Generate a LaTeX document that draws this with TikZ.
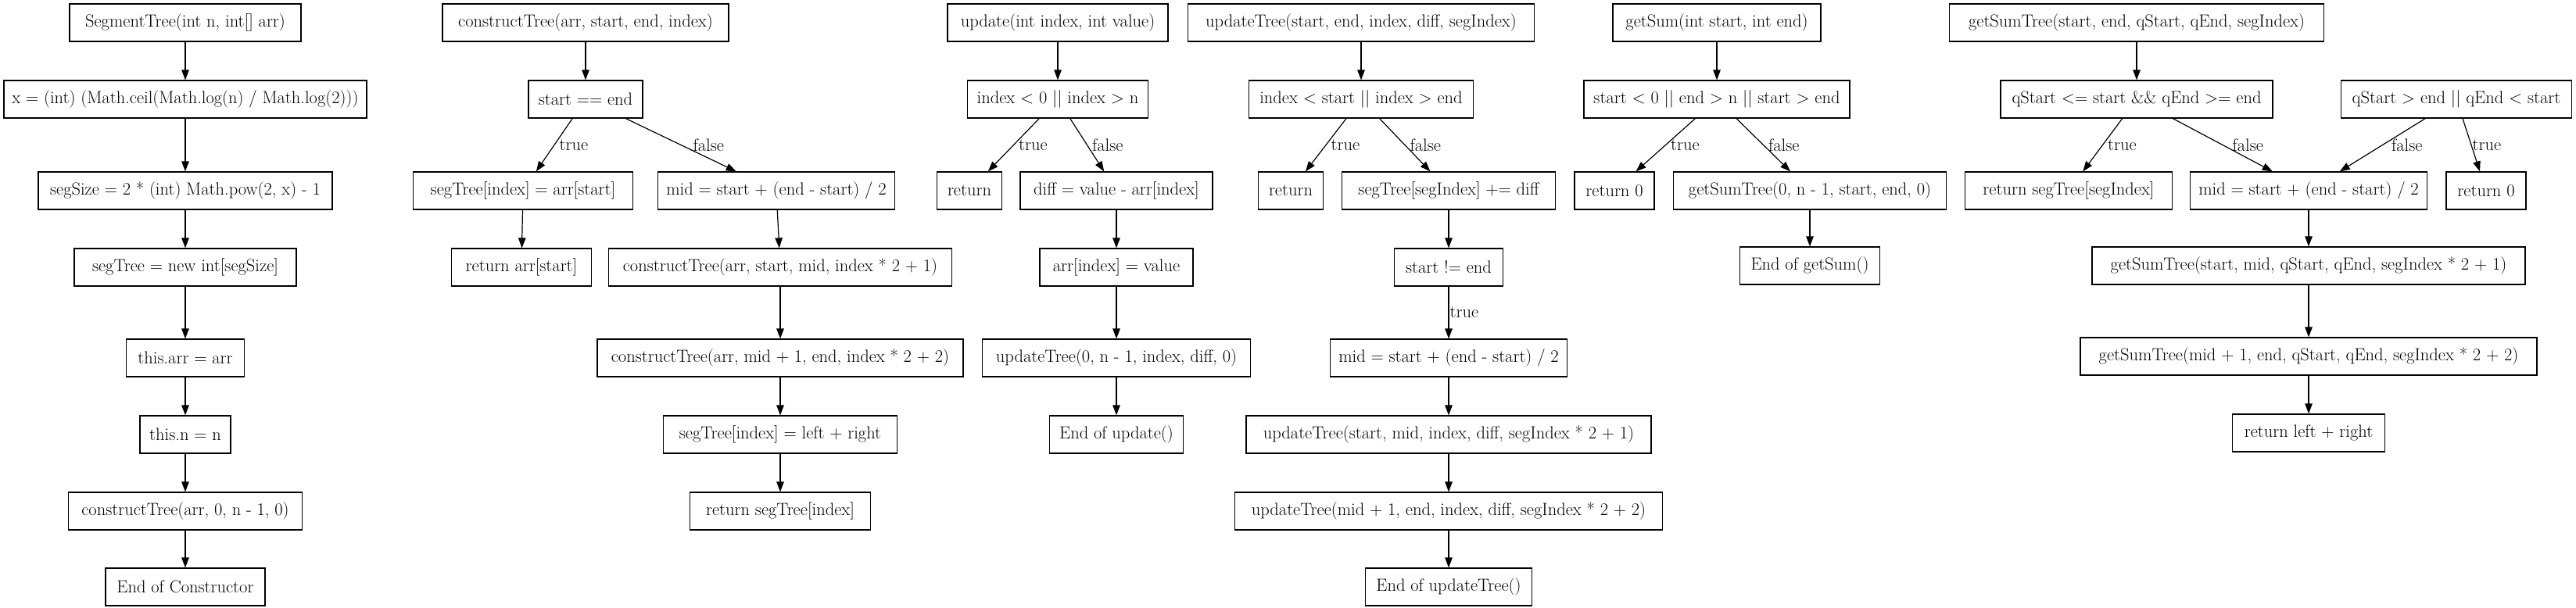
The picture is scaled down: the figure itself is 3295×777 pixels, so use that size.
\documentclass[tikz,border=0pt]{standalone}
\usetikzlibrary{arrows.meta}

\begin{document}
\begin{tikzpicture}[
      x=1pt, y=-1pt,
      bloco/.style={draw, line width=1.2pt, minimum height=48pt, inner sep=0pt,
                    font=\fontsize{22.5}{26}\selectfont},
      seta/.style={-{Triangle[length=13pt, width=9.5pt]}, line width=1.2pt},
      rotulo/.style={font=\fontsize{22.5}{26}\selectfont, anchor=west, inner xsep=6pt, inner ysep=0pt}
  ]
      \useasboundingbox[fill=white] (0,0) rectangle (3295,777);

      % Construtor
      \node[bloco, minimum width=296pt] (ctor)   at (237,29)  {SegmentTree(int n, int[] arr)};
      \node[bloco, minimum width=464pt] (xlog)   at (237,127) {x = (int) (Math.ceil(Math.log(n) / Math.log(2)))};
      \node[bloco, minimum width=376pt] (size)   at (237,244) {segSize = 2 * (int) Math.pow(2, x) - 1};
      \node[bloco, minimum width=284pt] (alloc)  at (237,342) {segTree = new int[segSize]};
      \node[bloco, minimum width=151pt] (tarr)   at (237,458) {this.arr = arr};
      \node[bloco, minimum width=116pt] (tn)     at (237,556) {this.n = n};
      \node[bloco, minimum width=299pt] (call)   at (237,654) {constructTree(arr, 0, n - 1, 0)};
      \node[bloco, minimum width=204pt] (endc)   at (237,751) {End of Constructor};

      \draw[seta] (ctor)--(xlog);
      \draw[seta] (xlog)--(size);
      \draw[seta] (size)--(alloc);
      \draw[seta] (alloc)--(tarr);
      \draw[seta] (tarr)--(tn);
      \draw[seta] (tn)--(call);
      \draw[seta] (call)--(endc);

      % constructTree
      \node[bloco, minimum width=366pt] (ct)     at (749,29)   {constructTree(arr, start, end, index)};
      \node[bloco, minimum width=146pt] (cteq)   at (749,127)  {start == end};
      \node[bloco, minimum width=281pt] (ctleaf) at (669,244)  {segTree[index] = arr[start]};
      \node[bloco, minimum width=303pt] (ctmid)  at (993,244)  {mid = start + (end - start) / 2};
      \node[bloco, minimum width=179pt] (ctret)  at (667,342)  {return arr[start]};
      \node[bloco, minimum width=439pt] (ctl)    at (998,342)  {constructTree(arr, start, mid, index * 2 + 1)};
      \node[bloco, minimum width=468pt] (ctr)    at (998,458)  {constructTree(arr, mid + 1, end, index * 2 + 2)};
      \node[bloco, minimum width=299pt] (ctsum)  at (998,556)  {segTree[index] = left + right};
      \node[bloco, minimum width=231pt] (ctend)  at (998,654)  {return segTree[index]};

      \draw[seta] (ct)--(cteq);
      \draw[seta] (cteq)--node[rotulo] {true} (ctleaf);
      \draw[seta] (cteq)--node[rotulo, xshift=9pt] {false} (ctmid);
      \draw[seta] (ctleaf)--(ctret);
      \draw[seta] (ctmid)--(ctl);
      \draw[seta] (ctl)--(ctr);
      \draw[seta] (ctr)--(ctsum);
      \draw[seta] (ctsum)--(ctend);

      % update
      \node[bloco, minimum width=282pt] (up)     at (1353,29)  {update(int index, int value)};
      \node[bloco, minimum width=231pt] (upchk)  at (1353,127) {index < 0 || index > n};
      \node[bloco, minimum width=83pt]  (upret)  at (1240,244) {return};
      \node[bloco, minimum width=246pt] (updiff) at (1428,244) {diff = value - arr[index]};
      \node[bloco, minimum width=196pt] (upset)  at (1428,342) {arr[index] = value};
      \node[bloco, minimum width=343pt] (upcall) at (1428,458) {updateTree(0, n - 1, index, diff, 0)};
      \node[bloco, minimum width=171pt] (upend)  at (1428,556) {End of update()};

      \draw[seta] (up)--(upchk);
      \draw[seta] (upchk)--node[rotulo] {true} (upret);
      \draw[seta] (upchk)--node[rotulo] {false} (updiff);
      \draw[seta] (updiff)--(upset);
      \draw[seta] (upset)--(upcall);
      \draw[seta] (upcall)--(upend);

      % updateTree
      \node[bloco, minimum width=443pt] (ut)     at (1741,29)  {updateTree(start, end, index, diff, segIndex)};
      \node[bloco, minimum width=287pt] (utchk)  at (1741,127) {index < start || index > end};
      \node[bloco, minimum width=83pt]  (utret)  at (1651,244) {return};
      \node[bloco, minimum width=273pt] (utadd)  at (1853,244) {segTree[segIndex] += diff};
      \node[bloco, minimum width=139pt] (utne)   at (1853,342) {start != end};
      \node[bloco, minimum width=303pt] (utmid)  at (1853,458) {mid = start + (end - start) / 2};
      \node[bloco, minimum width=518pt] (utl)    at (1853,556) {updateTree(start, mid, index, diff, segIndex * 2 + 1)};
      \node[bloco, minimum width=547pt] (utr)    at (1853,654) {updateTree(mid + 1, end, index, diff, segIndex * 2 + 2)};
      \node[bloco, minimum width=213pt] (utend)  at (1853,751) {End of updateTree()};

      \draw[seta] (ut)--(utchk);
      \draw[seta] (utchk)--node[rotulo] {true} (utret);
      \draw[seta] (utchk)--node[rotulo] {false} (utadd);
      \draw[seta] (utadd)--(utne);
      \draw[seta] (utne)--node[rotulo, xshift=-5pt] {true} (utmid);
      \draw[seta] (utmid)--(utl);
      \draw[seta] (utl)--(utr);
      \draw[seta] (utr)--(utend);

      % getSum
      \node[bloco, minimum width=266pt] (gs)     at (2196,29)  {getSum(int start, int end)};
      \node[bloco, minimum width=340pt] (gschk)  at (2196,127) {start < 0 || end > n || start > end};
      \node[bloco, minimum width=102pt] (gsret)  at (2065,244) {return 0};
      \node[bloco, minimum width=349pt] (gscall) at (2315,244) {getSumTree(0, n - 1, start, end, 0)};
      \node[bloco, minimum width=179pt] (gsend)  at (2315,340) {End of getSum()};

      \draw[seta] (gs)--(gschk);
      \draw[seta] (gschk)--node[rotulo] {true} (gsret);
      \draw[seta] (gschk)--node[rotulo] {false} (gscall);
      \draw[seta] (gscall)--(gsend);

      % getSumTree
      \node[bloco, minimum width=479pt] (gt)     at (2733,29)  {getSumTree(start, end, qStart, qEnd, segIndex)};
      \node[bloco, minimum width=348pt] (gtin)   at (2733,127) {qStart <= start \&\& qEnd >= end};
      \node[bloco, minimum width=295pt] (gtout)  at (3142,127) {qStart > end || qEnd < start};
      \node[bloco, minimum width=265pt] (gtret)  at (2646,244) {return segTree[segIndex]};
      \node[bloco, minimum width=303pt] (gtmid)  at (2953,244) {mid = start + (end - start) / 2};
      \node[bloco, minimum width=102pt] (gtzero) at (3180,244) {return 0};
      \node[bloco, minimum width=554pt] (gtl)    at (2953,340) {getSumTree(start, mid, qStart, qEnd, segIndex * 2 + 1)};
      \node[bloco, minimum width=584pt] (gtr)    at (2953,456) {getSumTree(mid + 1, end, qStart, qEnd, segIndex * 2 + 2)};
      \node[bloco, minimum width=195pt] (gtsum)  at (2953,554) {return left + right};

      \draw[seta] (gt)--(gtin);
      \draw[seta] (gtin)--node[rotulo] {true} (gtret);
      \draw[seta] (gtin)--node[rotulo, xshift=6pt] {false} (gtmid);
      \draw[seta] (gtout)--node[rotulo, xshift=5pt] {false} (gtmid);
      \draw[seta] (gtout)--node[rotulo, xshift=-5pt] {true} (gtzero);
      \draw[seta] (gtmid)--(gtl);
      \draw[seta] (gtl)--(gtr);
      \draw[seta] (gtr)--(gtsum);
  \end{tikzpicture}
\end{document}
